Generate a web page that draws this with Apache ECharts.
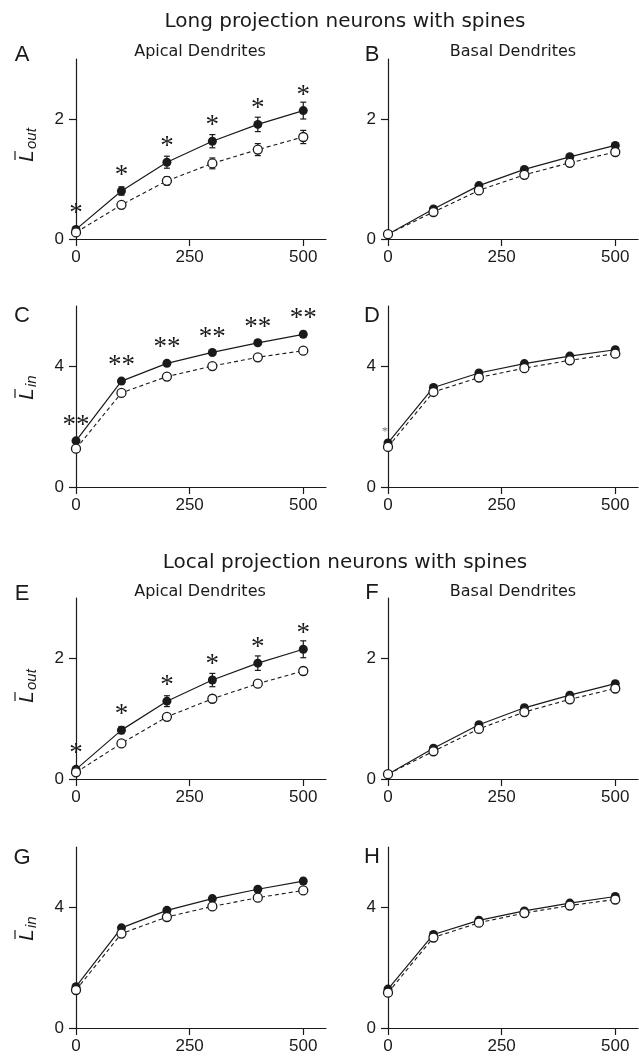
<!DOCTYPE html>
<html>
<head>
<meta charset="utf-8">
<script src="https://cdn.jsdelivr.net/npm/echarts@6/dist/echarts.min.js"></script>
<style>
html,body{margin:0;padding:0;background:#fff;}
#chart{width:639px;height:1057px;}
</style>
</head>
<body>
<div id="chart"></div>
<script>
// ---- data ----
const xs = [0, 100, 200, 300, 400, 500];
const xTicks = [0, 250, 500];
const yTicksOut = [0, 2];
const yTicksIn = [0, 4];

const A_filled = [0.16, 0.80, 1.28, 1.63, 1.91, 2.14];
const A_filledErr = [0.03, 0.07, 0.10, 0.11, 0.12, 0.14];
const A_open = [0.11, 0.57, 0.97, 1.26, 1.49, 1.70];
const A_openErr = [0.02, 0.04, 0.07, 0.09, 0.10, 0.11];
const A_sig = ['*', '*', '*', '*', '*', '*'];

const B_filled = [0.08, 0.50, 0.89, 1.16, 1.37, 1.56];
const B_filledErr = [0.01, 0.02, 0.03, 0.03, 0.03, 0.04];
const B_open = [0.08, 0.45, 0.81, 1.07, 1.27, 1.45];
const B_openErr = [0.01, 0.02, 0.03, 0.03, 0.03, 0.04];
const B_sig = ['', '', '', '', '', ''];

const C_filled = [1.53, 3.51, 4.10, 4.46, 4.78, 5.06];
const C_filledErr = [0.06, 0.05, 0.06, 0.06, 0.08, 0.10];
const C_open = [1.27, 3.12, 3.66, 4.01, 4.30, 4.52];
const C_openErr = [0.04, 0.04, 0.04, 0.04, 0.05, 0.06];
const C_sig = ['**', '**', '**', '**', '**', '**'];

const D_filled = [1.46, 3.30, 3.78, 4.09, 4.34, 4.55];
const D_filledErr = [0.04, 0.04, 0.04, 0.04, 0.04, 0.05];
const D_open = [1.33, 3.15, 3.63, 3.94, 4.20, 4.42];
const D_openErr = [0.04, 0.04, 0.04, 0.04, 0.04, 0.05];
const D_sig = ['*', '', '', '', '', ''];

const E_filled = [0.16, 0.81, 1.29, 1.64, 1.92, 2.15];
const E_filledErr = [0.03, 0.06, 0.09, 0.11, 0.12, 0.14];
const E_open = [0.11, 0.59, 1.03, 1.33, 1.58, 1.79];
const E_openErr = [0.02, 0.03, 0.04, 0.05, 0.05, 0.06];
const E_sig = ['*', '*', '*', '*', '*', '*'];

const F_filled = [0.08, 0.51, 0.90, 1.18, 1.39, 1.58];
const F_filledErr = [0.01, 0.02, 0.03, 0.03, 0.03, 0.04];
const F_open = [0.08, 0.46, 0.83, 1.11, 1.32, 1.50];
const F_openErr = [0.01, 0.02, 0.03, 0.03, 0.03, 0.04];
const F_sig = ['', '', '', '', '', ''];

const G_filled = [1.37, 3.32, 3.90, 4.29, 4.60, 4.87];
const G_filledErr = [0.05, 0.05, 0.06, 0.07, 0.08, 0.09];
const G_open = [1.26, 3.13, 3.68, 4.03, 4.32, 4.56];
const G_openErr = [0.04, 0.04, 0.04, 0.05, 0.05, 0.06];
const G_sig = ['', '', '', '', '', ''];

const H_filled = [1.29, 3.10, 3.57, 3.88, 4.14, 4.36];
const H_filledErr = [0.04, 0.04, 0.04, 0.04, 0.05, 0.05];
const H_open = [1.17, 3.00, 3.49, 3.81, 4.06, 4.26];
const H_openErr = [0.04, 0.04, 0.04, 0.04, 0.04, 0.05];
const H_sig = ['', '', '', '', '', ''];

const titles = ['Long projection neurons with spines', 'Local projection neurons with spines'];
const subTitles = ['Apical Dendrites', 'Basal Dendrites'];
const letters = ['A', 'B', 'C', 'D', 'E', 'F', 'G', 'H'];

// ---- layout ----
const INK = '#1a1a1a';
const panels = [
  {f: A_filled, fe: A_filledErr, o: A_open, oe: A_openErr, sig: A_sig, left: 76, top: 59, h: 180, yMax: 3, yTicks: yTicksOut, sub: 'out', nameY: 148, sigSize: 27},
  {f: B_filled, fe: B_filledErr, o: B_open, oe: B_openErr, sig: B_sig, left: 388, top: 59, h: 180, yMax: 3, yTicks: yTicksOut, sigSize: 27},
  {f: C_filled, fe: C_filledErr, o: C_open, oe: C_openErr, sig: C_sig, left: 76, top: 306, h: 181, yMax: 6, yTicks: yTicksIn, sub: 'in', nameY: 386, sigSize: 27},
  {f: D_filled, fe: D_filledErr, o: D_open, oe: D_openErr, sig: D_sig, left: 388, top: 306, h: 181, yMax: 6, yTicks: yTicksIn, sigSize: 13},
  {f: E_filled, fe: E_filledErr, o: E_open, oe: E_openErr, sig: E_sig, left: 76, top: 598, h: 181, yMax: 3, yTicks: yTicksOut, sub: 'out', nameY: 689, sigSize: 27},
  {f: F_filled, fe: F_filledErr, o: F_open, oe: F_openErr, sig: F_sig, left: 388, top: 598, h: 181, yMax: 3, yTicks: yTicksOut, sigSize: 27},
  {f: G_filled, fe: G_filledErr, o: G_open, oe: G_openErr, sig: G_sig, left: 76, top: 847, h: 181, yMax: 6, yTicks: yTicksIn, sub: 'in', nameY: 927, sigSize: 27},
  {f: H_filled, fe: H_filledErr, o: H_open, oe: H_openErr, sig: H_sig, left: 388, top: 847, h: 181, yMax: 6, yTicks: yTicksIn, sigSize: 27}
];
const letterPos = [[22, 55], [372, 55], [22, 316], [372, 316], [22, 594], [372, 593], [22, 858], [372, 857]];

const grids = [], xAxes = [], yAxes = [], series = [], graphics = [];
const axisCommon = {
  axisLine: {lineStyle: {color: INK, width: 1.2}},
  axisTick: {length: 7, lineStyle: {color: INK, width: 1.2}},
  splitLine: {show: false},
  axisLabel: {fontFamily: 'Liberation Sans', fontSize: 17, color: INK}
};

function errRender(params, api) {
  const x = api.value(0), y = api.value(1), e = api.value(2);
  const t = api.coord([x, y + e]);
  const b = api.coord([x, y - e]);
  const cw = 3;
  const st = {stroke: INK, lineWidth: 1.2};
  return {type: 'group', children: [
    {type: 'line', shape: {x1: t[0], y1: t[1], x2: b[0], y2: b[1]}, style: st},
    {type: 'line', shape: {x1: t[0] - cw, y1: t[1], x2: t[0] + cw, y2: t[1]}, style: st},
    {type: 'line', shape: {x1: b[0] - cw, y1: b[1], x2: b[0] + cw, y2: b[1]}, style: st}
  ]};
}

panels.forEach((p, i) => {
  grids.push({left: p.left, top: p.top, width: 250, height: p.h, containLabel: false});
  xAxes.push(Object.assign({}, axisCommon, {
    gridIndex: i, type: 'value', min: 0, max: 550, interval: 250,
    axisTick: Object.assign({}, axisCommon.axisTick, {customValues: xTicks}),
    axisLabel: Object.assign({}, axisCommon.axisLabel, {customValues: xTicks, margin: 10})
  }));
  yAxes.push(Object.assign({}, axisCommon, {
    gridIndex: i, type: 'value', min: 0, max: p.yMax, interval: p.yTicks[1],
    axisTick: Object.assign({}, axisCommon.axisTick, {customValues: p.yTicks}),
    axisLabel: Object.assign({}, axisCommon.axisLabel, {customValues: p.yTicks, margin: 12})
  }));
  const sigSize = p.sigSize;
  const small = sigSize < 18;
  const sigColor = small ? '#777' : INK;
  series.push({
    type: 'custom', xAxisIndex: i, yAxisIndex: i, z: 3, silent: true,
    renderItem: errRender, encode: {x: 0, y: 1},
    data: xs.map((x, j) => [x, p.f[j], p.fe[j]])
  });
  series.push({
    type: 'custom', xAxisIndex: i, yAxisIndex: i, z: 3, silent: true,
    renderItem: errRender, encode: {x: 0, y: 1},
    data: xs.map((x, j) => [x, p.o[j], p.oe[j]])
  });
  series.push({
    type: 'line', xAxisIndex: i, yAxisIndex: i, z: 4, silent: true,
    data: xs.map((x, j) => [x, p.f[j]]),
    symbol: 'circle', symbolSize: 9, showAllSymbol: true,
    itemStyle: {color: INK},
    lineStyle: {color: INK, width: 1.2},
    animation: false
  });
  series.push({
    type: 'line', xAxisIndex: i, yAxisIndex: i, z: 5, silent: true,
    data: xs.map((x, j) => [x, p.o[j]]),
    symbol: 'circle', symbolSize: 9, showAllSymbol: true,
    itemStyle: {color: '#fff', borderColor: INK, borderWidth: 1.3},
    lineStyle: {color: INK, width: 1.1, type: [4, 3]},
    animation: false
  });
  series.push({
    type: 'custom', xAxisIndex: i, yAxisIndex: i, z: 6, silent: true,
    encode: {x: 0, y: 1},
    data: xs.map((x, j) => [x, p.f[j], j]),
    renderItem: function (params, api) {
      const j = api.value(2);
      const s = p.sig[j];
      if (!s) return null;
      const c = api.coord([api.value(0), api.value(1)]);
      return {type: 'text', x: c[0] - (small ? 3 : 0), y: c[1] - (small ? 11 : 15),
        style: {text: s, fontFamily: 'Liberation Serif', fontSize: sigSize, fill: sigColor, align: 'center', verticalAlign: 'middle'}};
    }
  });
  graphics.push({type: 'text', x: letterPos[i][0], y: letterPos[i][1],
    style: {text: letters[i], fontFamily: 'Liberation Sans', fontSize: 22, fill: INK, align: 'center', verticalAlign: 'middle'}});
  if (p.sub) {
    graphics.push({type: 'group', x: 27, y: p.nameY, rotation: Math.PI / 2, children: [
      {type: 'text', x: -14, y: 0, style: {text: 'L', fontFamily: 'Liberation Sans', fontStyle: 'italic', fontSize: 21, fill: INK, align: 'left', verticalAlign: 'middle'}},
      {type: 'text', x: -1, y: 5, style: {text: p.sub, fontFamily: 'Liberation Sans', fontStyle: 'italic', fontSize: 15, fill: INK, align: 'left', verticalAlign: 'middle'}},
      {type: 'line', shape: {x1: -12, y1: -12, x2: -3, y2: -12}, style: {stroke: INK, lineWidth: 1.2}}
    ]});
  }
});

// titles
graphics.push({type: 'text', x: 345, y: 22, style: {text: titles[0], fontFamily: 'DejaVu Sans', fontSize: 20, fill: INK, align: 'center', verticalAlign: 'middle'}});
graphics.push({type: 'text', x: 345, y: 563, style: {text: titles[1], fontFamily: 'DejaVu Sans', fontSize: 20, fill: INK, align: 'center', verticalAlign: 'middle'}});
graphics.push({type: 'text', x: 200, y: 52, style: {text: subTitles[0], fontFamily: 'DejaVu Sans', fontSize: 16, fill: INK, align: 'center', verticalAlign: 'middle'}});
graphics.push({type: 'text', x: 513, y: 52, style: {text: subTitles[1], fontFamily: 'DejaVu Sans', fontSize: 16, fill: INK, align: 'center', verticalAlign: 'middle'}});
graphics.push({type: 'text', x: 200, y: 592, style: {text: subTitles[0], fontFamily: 'DejaVu Sans', fontSize: 16, fill: INK, align: 'center', verticalAlign: 'middle'}});
graphics.push({type: 'text', x: 513, y: 592, style: {text: subTitles[1], fontFamily: 'DejaVu Sans', fontSize: 16, fill: INK, align: 'center', verticalAlign: 'middle'}});

const chart = echarts.init(document.getElementById('chart'), null, {renderer: 'canvas'});
chart.setOption({
  animation: false,
  backgroundColor: '#fff',
  grid: grids, xAxis: xAxes, yAxis: yAxes, series: series, graphic: graphics
});
</script>
</body>
</html>
